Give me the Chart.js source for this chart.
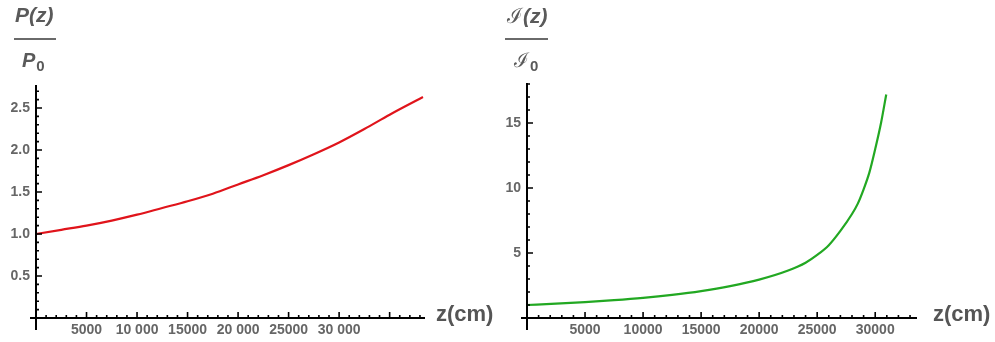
<!DOCTYPE html>
<html>
<head>
<meta charset="utf-8">
<script src="https://cdn.jsdelivr.net/npm/chart.js@4"></script>
<style>
body { margin: 0; width: 995px; height: 342px; background: #fff; position: relative; overflow: hidden;
       font-family: "Liberation Sans", Arial, sans-serif; }
.box { position: absolute; top: 0; height: 342px; }
.lbl { position: absolute; color: #5a5a5a; white-space: nowrap; font-weight: bold; }
.it { font-style: italic; }
.bar { position: absolute; height: 2px; background: #6a6a6a; }
.zl { position: absolute; color: #555; font-weight: bold; font-size: 22px; line-height: 22px; }
</style>
</head>
<body>
<div class="box" style="left:0;width:495px"><canvas id="chartP"></canvas></div>
<div class="box" style="left:495px;width:500px"><canvas id="chartI"></canvas></div>

<!-- axis titles -->
<div class="lbl it" style="left:15px;top:4px;font-size:21px;line-height:22px">P(z)</div>
<div class="bar" style="left:14px;top:38px;width:42px"></div>
<div class="lbl" style="left:22px;top:50px;font-size:20px;line-height:21px"><span class="it">P</span><span style="font-size:15px;position:relative;top:4px;margin-left:1px">0</span></div>

<div class="lbl" style="left:507px;top:5px;font-size:21px;line-height:22px"><span style="font-family:'DejaVu Serif',serif;font-weight:normal">ℐ</span><span class="it">(z)</span></div>
<div class="bar" style="left:505px;top:38px;width:43px"></div>
<div class="lbl" style="left:514px;top:50px;font-size:20px;line-height:21px"><span style="font-family:'DejaVu Serif',serif;font-weight:normal">ℐ</span><span style="font-size:15px;position:relative;top:4px;margin-left:1px">0</span></div>

<div class="zl" style="left:436px;top:303px">z(cm)</div>
<div class="zl" style="left:933px;top:303px">z(cm)</div>

<script>
// left panel: P(z)/P0
const zP = [0, 2500, 5000, 7500, 10000, 12500, 15000, 17500, 20000, 22500, 25000, 27500, 30000, 32500, 35000, 37500, 38300];
const valP = [1.00, 1.05, 1.10, 1.16, 1.23, 1.31, 1.39, 1.48, 1.59, 1.70, 1.82, 1.95, 2.09, 2.25, 2.42, 2.58, 2.63];

// right panel: I(z)/I0
const zI = [0, 2500, 5000, 7500, 10000, 12500, 15000, 17500, 20000, 22500, 24000, 25000, 26000, 27000, 28000, 28500, 29000, 29500, 30000, 30500, 30950];
const valI = [1.00, 1.10, 1.22, 1.37, 1.55, 1.78, 2.07, 2.45, 2.95, 3.65, 4.25, 4.85, 5.60, 6.70, 8.00, 8.80, 9.90, 11.2, 13.0, 15.0, 17.2];

// ticks
const xMajor = [5000, 10000, 15000, 20000, 25000, 30000];
const xLabelsP = ['5000', '10 000', '15000', '20 000', '25000', '30 000'];
const xLabelsI = ['5000', '10000', '15000', '20000', '25000', '30000'];
const yMajorP = [0.5, 1.0, 1.5, 2.0, 2.5];
const yLabelsP = ['0.5', '1.0', '1.5', '2.0', '2.5'];
const yMajorI = [5, 10, 15];
const yLabelsI = ['5', '10', '15'];

const tickFont = { family: '"Liberation Sans", Arial, sans-serif', size: 14, weight: 'bold' };
const tickColor = '#666';

// draws mathematica style axes (crossing at origin, ticks pointing inward)
const mmaAxes = {
  id: 'mmaAxes',
  afterDatasetsDraw(chart, args, opts) {
    const { ctx, chartArea: a, scales: { x, y } } = chart;
    ctx.save();
    ctx.strokeStyle = '#000';
    ctx.lineWidth = 2;
    ctx.beginPath();
    ctx.moveTo(a.left - 6, a.bottom); ctx.lineTo(a.right, a.bottom);
    ctx.moveTo(a.left, a.top); ctx.lineTo(a.left, a.bottom + 12);
    ctx.stroke();
    ctx.lineWidth = 1.6;
    ctx.beginPath();
    for (let i = 1; i * opts.xStep <= x.max; i++) {
      const px = x.getPixelForValue(i * opts.xStep);
      const len = i % opts.xEvery === 0 ? 6 : 3;
      ctx.moveTo(px, a.bottom); ctx.lineTo(px, a.bottom - len);
    }
    for (let i = 1; i * opts.yStep <= y.max + 1e-9; i++) {
      const py = y.getPixelForValue(i * opts.yStep);
      const len = i % opts.yEvery === 0 ? 6 : 3;
      ctx.moveTo(a.left, py); ctx.lineTo(a.left + len, py);
    }
    ctx.stroke();
    ctx.restore();
  }
};

const makePanel = (id, zs, vals, color, cfg) => {
  const ctx = document.getElementById(id).getContext('2d');
  return new Chart(ctx, {
    type: 'line',
    data: {
      datasets: [{
        data: zs.map((z, i) => ({ x: z, y: vals[i] })),
        borderColor: color,
        borderWidth: 2.2,
        pointRadius: 0,
        cubicInterpolationMode: 'monotone',
        fill: false,
        clip: 6
      }]
    },
    options: {
      responsive: true,
      maintainAspectRatio: false,
      animation: false,
      events: [],
      layout: { padding: { left: 0, top: cfg.top, right: cfg.right, bottom: 0 } },
      plugins: { legend: { display: false }, tooltip: { enabled: false }, mmaAxes: cfg.axes },
      scales: {
        x: {
          type: 'linear', min: 0, max: cfg.xMax,
          grid: { display: false, drawTicks: false },
          border: { display: false },
          afterBuildTicks: s => { s.ticks = xMajor.map(v => ({ value: v })); },
          afterFit: s => { s.height = 24; },
          ticks: { color: tickColor, font: tickFont, padding: 4, maxRotation: 0, autoSkip: false,
                   callback: (v, i) => cfg.xLabels[i] }
        },
        y: {
          type: 'linear', min: 0, max: cfg.yMax,
          grid: { display: false, drawTicks: false },
          border: { display: false },
          afterBuildTicks: s => { s.ticks = cfg.yMajor.map(v => ({ value: v })); },
          afterFit: s => { s.width = cfg.yWidth; },
          ticks: { color: tickColor, font: tickFont, padding: 6, autoSkip: false,
                   callback: (v, i) => cfg.yLabels[i] }
        }
      }
    },
    plugins: [mmaAxes]
  });
};

makePanel('chartP', zP, valP, '#e0141b', {
  top: 85, right: 70, yWidth: 36, xMax: 38500, yMax: 2.774,
  xLabels: xLabelsP, yMajor: yMajorP, yLabels: yLabelsP,
  axes: { xStep: 1000, xEvery: 5, yStep: 0.1, yEvery: 5 }
});

makePanel('chartI', zI, valI, '#22a822', {
  top: 83, right: 78, yWidth: 32, xMax: 33600, yMax: 18.08,
  xLabels: xLabelsI, yMajor: yMajorI, yLabels: yLabelsI,
  axes: { xStep: 1000, xEvery: 5, yStep: 1, yEvery: 5 }
});
</script>
</body>
</html>
